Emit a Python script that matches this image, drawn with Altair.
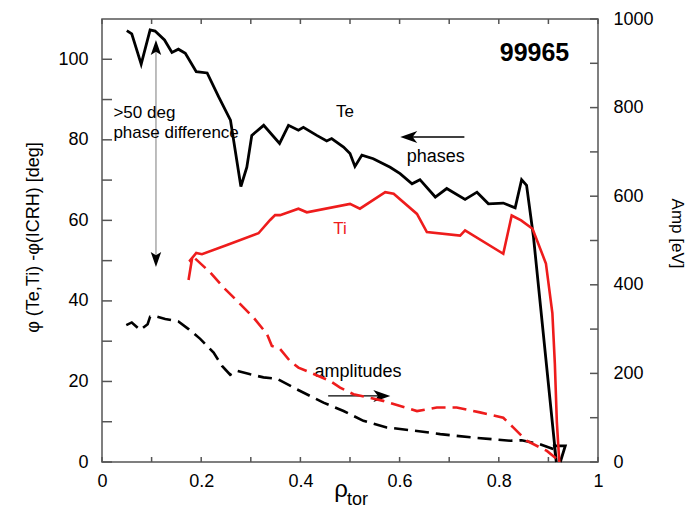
import altair as alt
import pandas as pd

# ---------------- data ----------------
te_phase_rho = [0.050, 0.060, 0.079, 0.097, 0.107, 0.126, 0.141, 0.154, 0.168, 0.190,
                0.212, 0.235, 0.259, 0.280, 0.292, 0.302, 0.326, 0.358, 0.376, 0.396,
                0.406, 0.433, 0.453, 0.463, 0.487, 0.500, 0.510, 0.524, 0.547, 0.581,
                0.601, 0.625, 0.641, 0.672, 0.695, 0.732, 0.756, 0.779, 0.809, 0.833,
                0.846, 0.856, 0.870, 0.916, 0.912, 0.934, 0.924]
te_phase_deg = [107.1, 106.3, 98.8, 107.3, 107.0, 104.8, 101.7, 102.5, 101.5, 96.9,
                96.6, 90.7, 84.9, 68.4, 73.2, 81.1, 83.6, 79.1, 83.6, 82.4,
                83.1, 81.1, 79.7, 80.3, 78.2, 76.6, 73.4, 76.2, 75.3, 73.2,
                71.6, 69.1, 70.1, 65.8, 67.9, 65.2, 67.0, 64.1, 64.3, 63.1,
                70.1, 68.7, 55.8, 0.0, 4.0, 4.0, 0.0]

ti_phase_rho = [0.1745, 0.181, 0.176, 0.190, 0.2015, 0.252, 0.3155, 0.339, 0.349, 0.359,
                0.396, 0.413, 0.500, 0.520, 0.571, 0.588, 0.635, 0.655, 0.722, 0.732,
                0.809, 0.826, 0.845, 0.868, 0.895, 0.908, 0.913, 0.917, 0.922]
ti_phase_deg = [45.2, 50.1, 49.8, 51.9, 51.6, 53.9, 56.8, 60.1, 61.3, 61.3,
                62.9, 62.0, 64.1, 62.9, 67.0, 66.6, 61.6, 57.1, 56.2, 57.5,
                51.7, 61.2, 60.0, 57.9, 49.3, 37.0, 24.4, 10.0, 0.0]

te_amp_rho = [0.049, 0.060, 0.077, 0.092, 0.097, 0.111, 0.1275, 0.154, 0.1745, 0.198,
              0.225, 0.242, 0.2585, 0.272, 0.299, 0.3255, 0.3525, 0.393, 0.4465, 0.487,
              0.527, 0.574, 0.635, 0.682, 0.749, 0.823, 0.846, 0.883, 0.910]
te_amp_ev = [309, 315, 298, 311, 328, 328, 323, 317, 300, 278,
             247, 217, 197, 206, 198, 191, 188, 164, 134, 115,
             93, 78, 70, 63, 55, 48, 49, 40, 29]

ti_amp_rho = [0.188, 0.218, 0.245, 0.272, 0.3055, 0.3325, 0.3425, 0.359, 0.379, 0.396,
              0.420, 0.460, 0.480, 0.507, 0.567, 0.635, 0.675, 0.715, 0.762, 0.809,
              0.829, 0.856, 0.897, 0.922]
ti_amp_ev = [459, 428, 394, 364, 326, 289, 262, 255, 228, 213,
             202, 183, 168, 153, 138, 115, 123, 123, 112, 100,
             78, 48, 25, 2]

x_ticks = [round(0.1 * i, 1) for i in range(11)]
phase_ticks = list(range(0, 101, 10))
amp_ticks = list(range(0, 1001, 100))

# annotations (data coordinates: rho, phase)
ann_center_text = ["Te", "Ti", "phases", "amplitudes"]
ann_center_rho = [0.490, 0.480, 0.673, 0.516]
ann_center_val = [86.9, 57.9, 75.7, 22.3]
ann_center_col = ["black", "#ee1c1c", "black", "black"]
ann_center_fs = [17, 17, 18, 18]

ann_left_text = [">50 deg", "phase difference"]
ann_left_rho = [0.023, 0.023]
ann_left_val = [86.7, 81.7]

shot_text = ["99965"]
shot_rho = [0.872]
shot_val = [101.6]

harrow_rho = [0.6102, 0.456]
harrow_rho2 = [0.7306, 0.573]
harrow_val = [80.7, 16.4]

varrow_rho = [0.1088]
varrow_val = [102.0]
varrow_val2 = [51.0]

LEFT_HEAD = "M-1,0 L1,-0.7 L0.45,0 L1,0.7 Z"
RIGHT_HEAD = "M1,0 L-1,-0.7 L-0.45,0 L-1,0.7 Z"
UP_HEAD = "M0,-1 L0.7,1 L0,0.55 L-0.7,1 Z"
DOWN_HEAD = "M0,1 L0.7,-1 L0,-0.55 L-0.7,-1 Z"
head_rho = [0.6185, 0.5641, 0.1088, 0.1088]
head_val = [80.7, 16.4, 102.9, 50.3]
head_shape = [LEFT_HEAD, RIGHT_HEAD, UP_HEAD, DOWN_HEAD]
head_size = [289, 289, 225, 225]

# ---------------- chart ----------------
W, H = 496, 443
FONT = "Liberation Sans"
AX = "#555555"
RED = "#ee1c1c"

XS = alt.Scale(domain=[0, 1], nice=False, zero=False)
PS = alt.Scale(domain=[0, 110], nice=False, zero=False)
AS = alt.Scale(domain=[0, 1000], nice=False, zero=False)


def seq(rho, val):
    return pd.DataFrame({"rho": rho, "val": val, "i": list(range(len(rho)))})


ax_bottom = alt.Axis(orient="bottom", values=x_ticks,
                     labelExpr="(round(datum.value*10) % 2 == 0) ? format(datum.value, '~g') : ''",
                     ticks=False, domain=False, labelPadding=10, labelFlush=False,
                     labelOverlap=False, title=None, grid=False)
ax_left = alt.Axis(orient="left", values=phase_ticks,
                   labelExpr="datum.value % 20 == 0 ? '' + datum.value : ''",
                   ticks=False, domain=False, labelPadding=14, labelFlush=False,
                   labelOverlap=False, grid=False,
                   title="φ (Te,Ti) -φ(ICRH) [deg]", titleAngle=270, titleX=-69, titleY=218,
                   titleBaseline="middle", titleAlign="center", titleFontSize=18,
                   titleFontWeight="normal")
ax_right = alt.Axis(orient="right", values=amp_ticks,
                    labelExpr="datum.value % 200 == 0 ? '' + datum.value : ''",
                    ticks=False, domain=False, labelPadding=15, labelFlush=False,
                    labelOverlap=False, grid=False,
                    title="Amp [eV]", titleAngle=90, titleX=78, titleY=214,
                    titleBaseline="middle", titleAlign="center", titleFontSize=17,
                    titleFontWeight="normal")

X = alt.X("rho:Q", scale=XS, axis=ax_bottom)
Y_PH = alt.Y("val:Q", scale=PS, axis=ax_left)
Y_AMP = alt.Y("val:Q", scale=AS, axis=ax_right)

te_line = alt.Chart(seq(te_phase_rho, te_phase_deg)).mark_line(
    color="black", strokeWidth=2.8).encode(x=X, y=Y_PH, order="i:Q")

ti_line = alt.Chart(seq(ti_phase_rho, ti_phase_deg)).mark_line(
    color=RED, strokeWidth=2.6).encode(x=X, y=Y_PH, order="i:Q")

# inward tick marks (positions through the scales)
xt_df = pd.DataFrame({"rho": x_ticks})
bottom_ticks = alt.Chart(xt_df).mark_rule(color=AX, strokeWidth=1.5).encode(
    x=X, y=alt.value(H), y2=alt.value(H - 5))
top_ticks = alt.Chart(xt_df).mark_rule(color=AX, strokeWidth=1.5).encode(
    x=X, y=alt.value(0), y2=alt.value(5))
pt_df = pd.DataFrame({"val": phase_ticks})
left_ticks = alt.Chart(pt_df).mark_rule(color=AX, strokeWidth=1.5).encode(
    y=Y_PH, x=alt.value(0), x2=alt.value(10))
at_df = pd.DataFrame({"val": amp_ticks})
right_ticks = alt.Chart(at_df).mark_rule(color=AX, strokeWidth=1.5).encode(
    y=Y_AMP, x=alt.value(W), x2=alt.value(W - 8))

center_df = pd.DataFrame({"rho": ann_center_rho, "val": ann_center_val,
                          "t": ann_center_text, "c": ann_center_col, "fs": ann_center_fs})
center_txt = alt.Chart(center_df).mark_text(font=FONT, align="center", baseline="middle").encode(
    x=X, y=Y_PH, text="t:N",
    color=alt.Color("c:N", scale=None),
    size=alt.Size("fs:Q", scale=None))

left_df = pd.DataFrame({"rho": ann_left_rho, "val": ann_left_val, "t": ann_left_text})
left_txt = alt.Chart(left_df).mark_text(font=FONT, fontSize=17, align="left",
                                        baseline="middle", color="black").encode(
    x=X, y=Y_PH, text="t:N")

shot_df = pd.DataFrame({"rho": shot_rho, "val": shot_val, "t": shot_text})
shot_txt = alt.Chart(shot_df).mark_text(font=FONT, fontSize=25, fontWeight="bold",
                                        align="center", baseline="middle", color="black").encode(
    x=X, y=Y_PH, text="t:N")

harrow_df = pd.DataFrame({"rho": harrow_rho, "rho2": harrow_rho2, "val": harrow_val})
harrows = alt.Chart(harrow_df).mark_rule(color="black", strokeWidth=1.3).encode(
    x=X, x2="rho2:Q", y=Y_PH)

varrow_df = pd.DataFrame({"rho": varrow_rho, "val": varrow_val, "val2": varrow_val2})
varrow = alt.Chart(varrow_df).mark_rule(color="#a8a8a8", strokeWidth=1.5).encode(
    x=X, y=Y_PH, y2="val2:Q")

head_df = pd.DataFrame({"rho": head_rho, "val": head_val, "s": head_shape, "sz": head_size})
heads = alt.Chart(head_df).mark_point(filled=True, color="black", opacity=1,
                                      strokeWidth=0).encode(
    x=X, y=Y_PH,
    shape=alt.Shape("s:N", scale=None),
    size=alt.Size("sz:Q", scale=None))

rho_df = pd.DataFrame({"t": ["ρ"]})
rho_txt = alt.Chart(rho_df).mark_text(font=FONT, fontSize=24, align="center",
                                      baseline="alphabetic", color="black").encode(
    x=alt.value(239), y=alt.value(478), text="t:N")
tor_df = pd.DataFrame({"t": ["tor"]})
tor_txt = alt.Chart(tor_df).mark_text(font=FONT, fontSize=18, align="left",
                                      baseline="alphabetic", color="black").encode(
    x=alt.value(245), y=alt.value(486), text="t:N")

phase_group = alt.layer(te_line, ti_line, bottom_ticks, top_ticks, left_ticks, varrow,
                        center_txt, left_txt, shot_txt, harrows, heads, rho_txt, tor_txt)

te_amp = alt.Chart(seq(te_amp_rho, te_amp_ev)).mark_line(
    color="black", strokeWidth=2.6, strokeDash=[14, 7]).encode(x=X, y=Y_AMP, order="i:Q")
ti_amp = alt.Chart(seq(ti_amp_rho, ti_amp_ev)).mark_line(
    color=RED, strokeWidth=2.6, strokeDash=[14, 7]).encode(x=X, y=Y_AMP, order="i:Q")
amp_group = alt.layer(te_amp, ti_amp, right_ticks)

chart = alt.layer(phase_group, amp_group).resolve_scale(
    y="independent").properties(
    width=W, height=H,
    padding={"left": 94, "top": 11, "right": 90, "bottom": 46},
    autosize=alt.AutoSizeParams(type="none"),
    background="white",
).configure_view(stroke=AX, strokeWidth=1.5).configure_axis(
    labelFont=FONT, titleFont=FONT, labelFontSize=18, labelColor="black",
    titleColor="black",
)

chart.save("out.html", embed_options={"renderer": "svg", "actions": False})
